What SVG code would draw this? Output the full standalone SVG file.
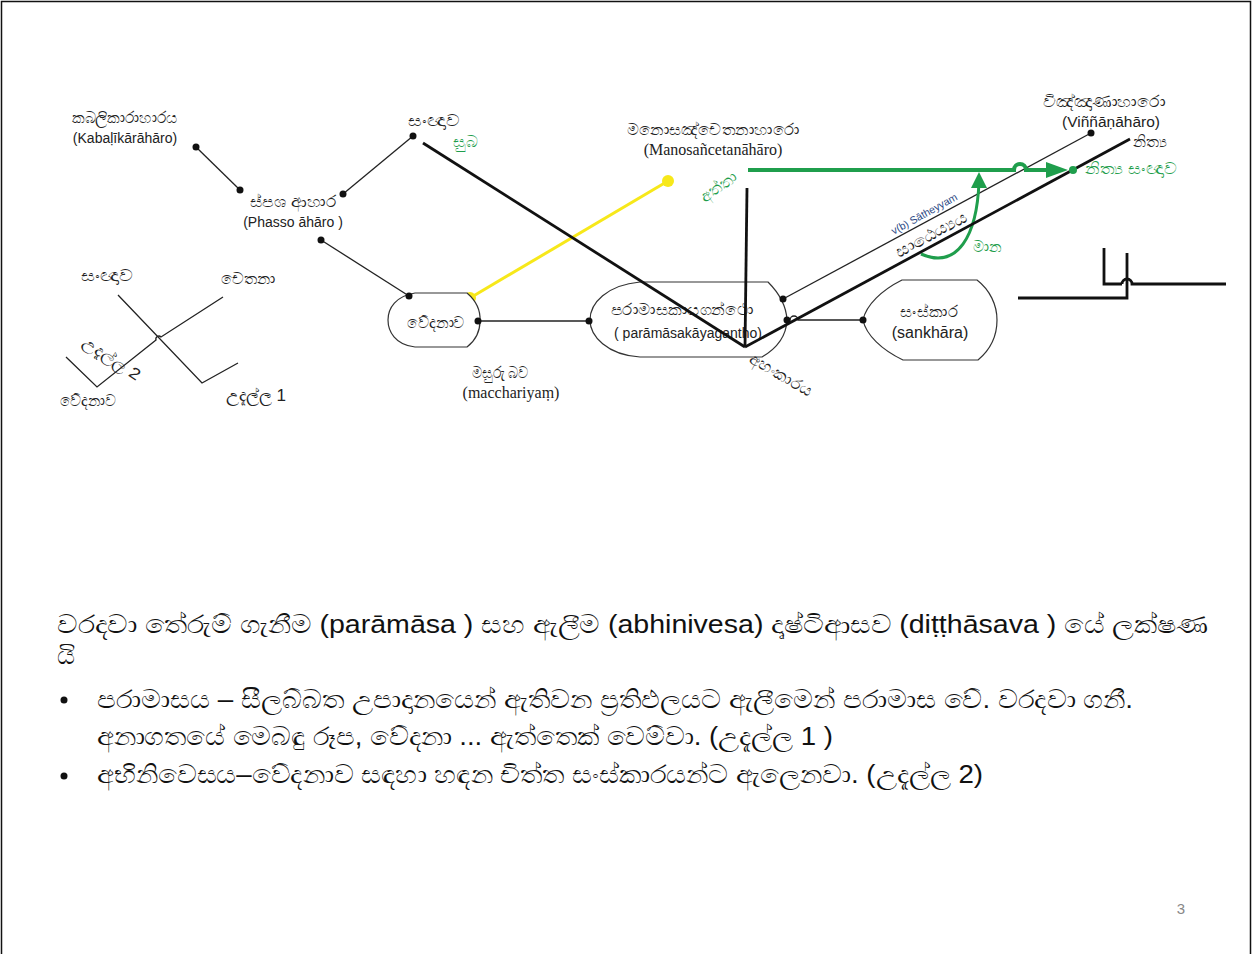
<svg xmlns="http://www.w3.org/2000/svg" width="1258" height="954" viewBox="0 0 1258 954">
<style>
.t{font-family:"Liberation Sans","Noto Sans",sans-serif;fill:#222;}
.si{font-family:"Liberation Sans","Noto Sans",sans-serif;fill:#222;font-size:16px;}
.s{font-family:"Liberation Serif",serif;fill:#222;}
.g{fill:#1f9e4c;}
.thin{stroke:#222;stroke-width:1.3;fill:none;}
.thick{stroke:#111;stroke-width:2.8;fill:none;}
.shape{stroke:#333;stroke-width:1.2;fill:#fff;}
.dot{fill:#111;}
.body{font-family:"Liberation Sans","Noto Sans",sans-serif;font-size:25px;fill:#111;}
</style>
<rect x="1.5" y="1.5" width="1249" height="980" fill="#fff" stroke="#111" stroke-width="1.5"/>

<g id="connectors">
<line class="thin" x1="196" y1="147" x2="240" y2="190"/>
<line class="thin" x1="343" y1="194" x2="413" y2="136"/>
<line class="thin" x1="321" y1="240" x2="409" y2="296"/>
<line class="thin" x1="478" y1="321" x2="589" y2="321"/>
<path class="thin" d="M787,320 L790,320 A4,4 0 0 1 798,320 L863,320"/>
<line x1="470" y1="298" x2="668" y2="181" stroke="#f7e81a" stroke-width="3"/>
<circle cx="470" cy="298" r="6" fill="#f7e81a"/>
<circle cx="668" cy="181" r="6" fill="#f7e81a"/>
<line class="thin" x1="783" y1="299" x2="1091" y2="133"/>
<circle class="dot" cx="1091" cy="133" r="3.5"/>
<path d="M748,170 L1014,170 A6,6 0 0 1 1026,170 L1052,170" stroke="#1f9e4c" stroke-width="4" fill="none"/>
<polygon points="1046,162 1068,170 1046,178" fill="#1f9e4c"/>
<path d="M921,254 C958,270 977,235 979,182" stroke="#1f9e4c" stroke-width="3" fill="none"/>
<polygon points="971,188 979,172 987,188" fill="#1f9e4c"/>
<circle class="dot" cx="196" cy="147" r="3.5"/>
<circle class="dot" cx="240" cy="190" r="3.5"/>
<circle class="dot" cx="343" cy="194" r="3.5"/>
<circle class="dot" cx="413" cy="136" r="3.5"/>
<circle class="dot" cx="321" cy="240" r="3.5"/>
</g>

<g id="mini-left">
<polyline class="thin" points="118,295 202,383 238,363"/>
<path class="thin" d="M66,357 L97,387 L156,340 A3,3 0 0 1 161,337 L223,297"/>
<text class="si" x="107" y="281" text-anchor="middle" textLength="53" lengthAdjust="spacingAndGlyphs">සංඥාව</text>
<text class="si" x="248" y="284" text-anchor="middle" textLength="55" lengthAdjust="spacingAndGlyphs">චෙතනා</text>
<text class="si" x="88" y="406" text-anchor="middle" textLength="57" lengthAdjust="spacingAndGlyphs">වේදනාව</text>
<text class="si" x="256" y="401" text-anchor="middle" textLength="60" lengthAdjust="spacingAndGlyphs">උදැල්ල 1</text>
<text class="si" x="81" y="345" font-size="17" transform="rotate(33 81 345)" textLength="66" lengthAdjust="spacingAndGlyphs">උදැල්ල 2</text>
</g>

<g id="mini-right">
<polyline class="thick" points="1104,248 1104,284 1122,284" stroke-width="2.2"/>
<path class="thick" stroke-width="2.2" d="M1122,284 A5,5 0 0 1 1132,284 L1226,284"/>
<polyline class="thick" stroke-width="2.2" points="1127,253 1127,298 1018,298"/>
</g>

<g id="node-kabalikara">
<text class="si" x="125" y="123" text-anchor="middle" textLength="106" lengthAdjust="spacingAndGlyphs">කබලිකාරාහාරය</text>
<text class="t" x="125" y="143" font-size="14" text-anchor="middle">(Kabaḷīkārāhāro)</text>
</g>
<g id="node-phasso">
<text class="si" x="293" y="207" text-anchor="middle" textLength="87" lengthAdjust="spacingAndGlyphs">ස්පශ ආහාර</text>
<text class="t" x="293" y="227" font-size="14" text-anchor="middle">(Phasso āhāro )</text>
</g>
<g id="node-sanna">
<text class="si" x="434" y="126" text-anchor="middle" textLength="52" lengthAdjust="spacingAndGlyphs">සංඥාව</text>
<text class="si g" x="465" y="147" text-anchor="middle" textLength="24" lengthAdjust="spacingAndGlyphs">සුබ</text>
</g>
<g id="node-manosancetana">
<text class="si" x="713" y="135" text-anchor="middle" textLength="173" lengthAdjust="spacingAndGlyphs">මනොසඤ්චෙතනාහාරො</text>
<text class="s" x="713" y="155" font-size="16" text-anchor="middle">(Manosañcetanāhāro)</text>
<text class="si g" x="719" y="192" text-anchor="middle" transform="rotate(-35 719 187)" textLength="40" lengthAdjust="spacingAndGlyphs">අත්තා</text>
</g>
<g id="node-vinnana">
<text class="si" x="1104" y="107" text-anchor="middle" textLength="122" lengthAdjust="spacingAndGlyphs">විඤ්ඤාණාහාරො</text>
<text class="t" x="1111" y="127" font-size="15.5" text-anchor="middle">(Viññāṇāhāro)</text>
<text class="si" x="1150" y="147" text-anchor="middle" textLength="34" lengthAdjust="spacingAndGlyphs">නිත්‍ය</text>
<text class="si g" x="1131" y="174" text-anchor="middle" textLength="92" lengthAdjust="spacingAndGlyphs">නිත්‍ය සංඥාව</text>
</g>
<g id="node-satheyya">
<text class="t" x="926" y="217" font-size="10.5" text-anchor="middle" style="fill:#2c4a86" transform="rotate(-29 926 217)">v(b) Sātheyyam</text>
<text class="si" x="934" y="239" text-anchor="middle" transform="rotate(-28 934 239)" textLength="80" lengthAdjust="spacingAndGlyphs">සාඨෙය්‍යය</text>
<text class="si g" x="987" y="252" text-anchor="middle" textLength="29" lengthAdjust="spacingAndGlyphs">මාන</text>
</g>
<g id="node-vedana">
<path class="shape" d="M415,293 L467,293 Q481,305 480,321 Q480,337 467,347 L415,347 C395,345 388,331 388,320 C388,308 396,296 415,293 Z"/>
<text class="si" x="436" y="328" text-anchor="middle" textLength="58" lengthAdjust="spacingAndGlyphs">වේදනාව</text>
<circle class="dot" cx="409" cy="296" r="3.5"/>
<circle class="dot" cx="478" cy="321" r="3.5"/>
</g>
<g id="node-paramasa">
<path class="shape" d="M640,282 L768,282 Q786,300 787,320 Q786,343 762,357 L640,357 C607,355 590,336 590,320 C590,303 607,285 640,282 Z"/>
<text class="si" x="682" y="315" text-anchor="middle" textLength="143" lengthAdjust="spacingAndGlyphs">පරාමාසකායගන්ථො</text>
<text class="t" x="688" y="338" font-size="14" text-anchor="middle">( parāmāsakāyagantho)</text>
<circle class="dot" cx="589" cy="321" r="3.5"/>
<circle class="dot" cx="783" cy="299" r="3.5"/>
<circle class="dot" cx="787" cy="320" r="3.5"/>
</g>
<g id="thick-lines">
<line class="thick" x1="745" y1="347" x2="1130" y2="139"/>
<line class="thick" x1="423" y1="143" x2="745" y2="347"/>
<line class="thick" x1="747" y1="188" x2="745" y2="347"/>
<circle cx="1073" cy="170" r="4" fill="#1f9e4c"/>
</g>
<g id="node-ahankara">
<text class="si" x="748" y="362" transform="rotate(30 748 362)" textLength="70" lengthAdjust="spacingAndGlyphs">අහංකාරය</text>
</g>
<g id="node-sankhara">
<path class="shape" d="M902,280 L977,280 C990,290 997,305 997,320 C997,336 990,350 978,360 L903,360 C882,350 866,335 863,320 C866,305 882,290 902,280 Z"/>
<text class="si" x="929" y="317" text-anchor="middle" textLength="58" lengthAdjust="spacingAndGlyphs">සංස්කාර</text>
<text class="t" x="930" y="338" font-size="16" text-anchor="middle">(sankhāra)</text>
<circle class="dot" cx="863" cy="320" r="3.5"/>
</g>
<g id="node-macchariya">
<text class="si" x="500" y="378" font-size="14" text-anchor="middle" textLength="57" lengthAdjust="spacingAndGlyphs">මසුරු බව</text>
<text class="s" x="511" y="398" font-size="16" text-anchor="middle">(macchariyaṃ)</text>
</g>

<g id="body-text">
<text class="body" x="57" y="633" textLength="1151" lengthAdjust="spacingAndGlyphs">වරදවා තේරුම් ගැනීම (parāmāsa ) සහ ඇලීම (abhinivesa) දෘෂ්ටිආසව (diṭṭhāsava ) යේ ලක්ෂණ</text>
<text class="body" x="57" y="664">යි</text>
<circle cx="64" cy="700" r="3.5" fill="#111"/>
<text class="body" x="97" y="708" textLength="1036" lengthAdjust="spacingAndGlyphs">පරාමාසය – සීලබ්බත උපාදානයෙන් ඇතිවන ප්‍රතිඵලයට ඇලීමෙන් පරාමාස වේ. වරදවා ගනී.</text>
<text class="body" x="97" y="745" textLength="736" lengthAdjust="spacingAndGlyphs">අනාගතයේ මෙබඳු රූප, වේදනා ... ඇත්තෙක් වෙම්වා. (උදැල්ල 1 )</text>
<circle cx="64" cy="776" r="3.5" fill="#111"/>
<text class="body" x="97" y="783" textLength="886" lengthAdjust="spacingAndGlyphs">අභිනිවෙසය–වේදනාව සඳහා හඳන චිත්ත සංස්කාරයන්ට ඇලෙනවා. (උදැල්ල 2)</text>
<text class="t" x="1181" y="914" font-size="15" text-anchor="middle" style="fill:#888">3</text>
</g>
</svg>
